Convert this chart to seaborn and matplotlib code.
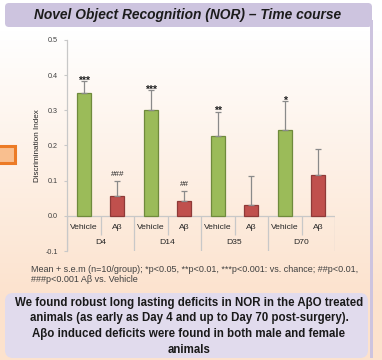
import numpy as np
import pandas as pd
import matplotlib
matplotlib.use("Agg")
import matplotlib.pyplot as plt
from matplotlib.patches import FancyBboxPatch, Rectangle
import seaborn as sns

# ---- data -------------------------------------------------------------
days = ["D4", "D14", "D35", "D70"]
groups = ["Vehicle", "Aβ"]
vehicle_mean = [0.348, 0.300, 0.226, 0.243]
vehicle_sem = [0.035, 0.057, 0.070, 0.083]
abeta_mean = [0.056, 0.042, 0.030, 0.116]
abeta_sem = [0.044, 0.029, 0.083, 0.074]
vehicle_marks = ["***", "***", "**", "*"]
abeta_marks = ["###", "##", "", ""]
y_ticks = [-0.1, 0.0, 0.1, 0.2, 0.3, 0.4, 0.5]
y_tick_labels = ["-0.1", "0.0", "0.1", "0.2", "0.3", "0.4", "0.5"]

title = "Novel Object Recognition (NOR) – Time course"
footnote = ["Mean + s.e.m (n=10/group); *p<0.05, **p<0.01, ***p<0.001: vs. chance; ##p<0.01,",
            "###p<0.001 Aβ vs. Vehicle"]
summary = ["We found robust long lasting deficits in NOR in the AβO treated",
           "animals (as early as Day 4 and up to Day 70 post-surgery).",
           "Aβo induced deficits were found in both male and female",
           "animals"]

df = pd.DataFrame({
    "day": days * 2,
    "group": ["Vehicle"] * 4 + ["Aβ"] * 4,
    "value": vehicle_mean + abeta_mean,
})

sns.set_theme(style="white")
plt.rcParams["font.family"] = ["Liberation Sans", "DejaVu Sans"]
plt.rcParams["axes.unicode_minus"] = False

W, H = 382, 360
fig = plt.figure(figsize=(W / 100, H / 100), dpi=100)

# ---- slide background (pixel coordinates) -------------------------------
bg = fig.add_axes([0, 0, 1, 1], zorder=-10)
bg.set_xlim(0, W)
bg.set_ylim(H, 0)
bg.axis("off")
rows = np.arange(H)
t = np.clip((rows - 30) / 270.0, 0, 1)[:, None]
top_c = np.array([1.0, 1.0, 1.0])
bot_c = np.array([252, 226, 205]) / 255
grad = (top_c * (1 - t) + bot_c * t)[:, None, :].repeat(W, axis=1)
bg.imshow(grad, extent=[0, W, H, 0], aspect="auto", zorder=0)

lav = "#cdc4df"
bg.add_patch(Rectangle((369.5, 20), 3.2, 338, facecolor=lav, edgecolor="none", zorder=1))
bg.add_patch(FancyBboxPatch((5, 3), 367, 24, boxstyle="round,pad=0,rounding_size=4",
                            facecolor=lav, edgecolor="none", zorder=2))
bg.text(188, 15.5, title, ha="center", va="center", fontsize=9.9,
        fontweight="bold", fontstyle="italic", color="#1c1c1c", zorder=3)

bg.add_patch(Rectangle((-3, 145.5), 17.5, 17, facecolor="#f9bf8f", edgecolor="#ec7b26",
                       linewidth=2.2, zorder=2))

bg.add_patch(FancyBboxPatch((5, 293), 363, 65, boxstyle="round,pad=0,rounding_size=8",
                            facecolor="#e1dbed", edgecolor="none", zorder=2))
for yy, line in zip([303, 318.5, 334, 350], summary):
    bg.text(189, yy, line, ha="center", va="center", fontsize=8.3,
            fontweight="bold", color="#1a1a1a", zorder=3)

for yy, line in zip([269, 279], footnote):
    bg.text(31, yy, line, ha="left", va="center", fontsize=6.5, color="#404040", zorder=3)

# ---- chart ---------------------------------------------------------------
ax = fig.add_axes([67 / W, 1 - 251 / H, (335 - 67) / W, (251 - 40) / H])
ax.patch.set_alpha(0)

palette = {"Vehicle": "#9bbb59", "Aβ": "#c0504d"}
edges = {"Vehicle": "#6f8a3c", "Aβ": "#8e3a38"}
sns.barplot(data=df, x="day", y="value", hue="group", order=days, hue_order=groups,
            palette=palette, saturation=1, width=1.0, gap=0.58, errorbar=None,
            legend=False, linewidth=0.9, ax=ax)

bars = sorted(ax.patches, key=lambda p: p.get_x())
means = [m for pair in zip(vehicle_mean, abeta_mean) for m in pair]
sems = [s for pair in zip(vehicle_sem, abeta_sem) for s in pair]
marks = [m for pair in zip(vehicle_marks, abeta_marks) for m in pair]
labels = groups * len(days)
xc = [p.get_x() + p.get_width() / 2 for p in bars]

for p, lab in zip(bars, labels):
    p.set_edgecolor(edges[lab])

ax.errorbar(xc, means, yerr=[np.zeros(len(sems)), sems], fmt="none",
            ecolor="#8a8a8a", elinewidth=0.9, capsize=2.5, capthick=0.9, zorder=1)

for x, m, s, mk in zip(xc, means, sems, marks):
    if not mk:
        continue
    if mk.startswith("*"):
        ax.annotate(mk, (x, m + s), xytext=(0, -1.8), textcoords="offset points",
                    ha="center", va="baseline", fontsize=7.6, fontweight="bold",
                    color="#222222")
    else:
        ax.annotate(mk, (x, m + s), xytext=(0, 3.4), textcoords="offset points",
                    ha="center", va="baseline", fontsize=5.8, color="#222222")

# two-level category axis
grid_c = "#c8c8c8"
ax.axhline(0, color=grid_c, linewidth=0.9, zorder=0)
for x, lab in zip(xc, labels):
    ax.text(x, -0.032, lab, ha="center", va="center", fontsize=6.1, color="#262626")
for i, d in enumerate(days):
    ax.text(i, -0.075, d, ha="center", va="center", fontsize=6.1, color="#262626")
ax.vlines(np.arange(len(days) + 1) - 0.5, -0.1, 0, color=grid_c, linewidth=0.9)
ax.vlines(np.arange(len(days)), -0.055, 0, color=grid_c, linewidth=0.9)

ax.set_xlim(-0.5, len(days) - 0.5)
ax.set_ylim(-0.1, 0.5)
ax.set_xticks([])
ax.set_xlabel("")
ax.set_yticks(y_ticks)
ax.set_yticklabels(y_tick_labels)
ax.set_ylabel("Discrimination Index", fontsize=5.9, color="#262626", labelpad=3.5)
ax.tick_params(axis="y", length=2.5, width=0.8, color=grid_c, labelsize=5.2,
               labelcolor="#404040", pad=4, left=True)
for side in ["top", "right", "bottom"]:
    ax.spines[side].set_visible(False)
ax.spines["left"].set_color(grid_c)
ax.spines["left"].set_linewidth(0.9)

fig.savefig("out.png", dpi=100)
